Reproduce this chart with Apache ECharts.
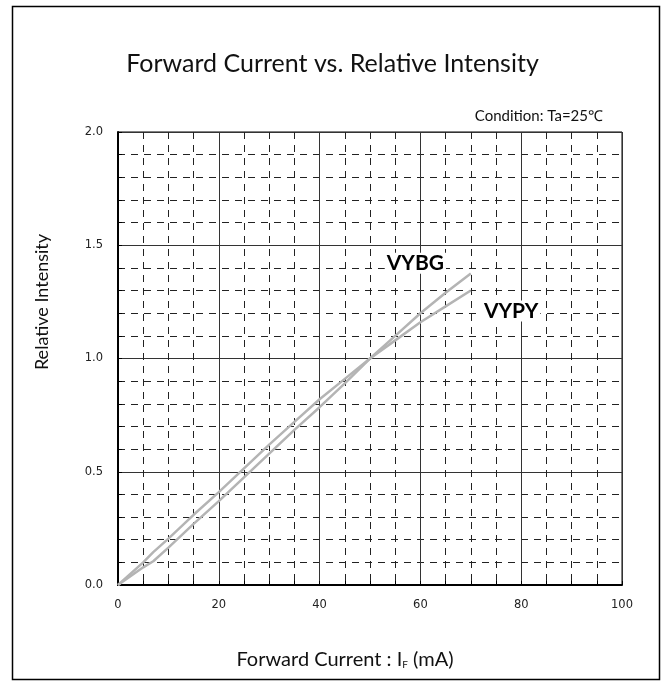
<!DOCTYPE html>
<html><head><meta charset="utf-8">
<script src="https://cdn.jsdelivr.net/npm/echarts@6/dist/echarts.min.js"></script>
<style>html,body{margin:0;padding:0;background:#fff}#c{width:665px;height:684px}</style>
</head><body><div id="c"></div>
<script>
var currentMA = [0, 5, 7, 10, 15, 20, 25, 30, 35, 40, 45, 50, 55, 60, 65, 70];
var vybg = [0, 0.078, 0.105, 0.165, 0.27, 0.37, 0.475, 0.58, 0.685, 0.785, 0.89, 1.0, 1.1, 1.2, 1.29, 1.375];
var vypy = [0, 0.1, 0.145, 0.205, 0.31, 0.41, 0.515, 0.62, 0.72, 0.82, 0.91, 1.0, 1.08, 1.16, 1.23, 1.30];
var xTicks = [0, 20, 40, 60, 80, 100];
var yTicks = [0, 0.5, 1.0, 1.5, 2.0];
var labelPos = { VYBG: [59, 1.42], VYPY: [78, 1.21] };

function pairs(xs, ys) { return xs.map(function (x, i) { return [x, ys[i]]; }); }

var chart = echarts.init(document.getElementById('c'), null, { renderer: 'canvas' });
var lineColor = '#b4b4b4';
var seriesLabel = function (txt) {
  return { show: true, position: 'inside', formatter: txt, fontFamily: 'Lato', fontWeight: 'bold', fontSize: 21, color: '#000', backgroundColor: '#fff', padding: [0, 2] };
};
var option = {
  backgroundColor: '#fff',
  animation: false,
  title: {
    text: 'Forward Current vs. Relative Intensity',
    left: 'center', top: 46,
    textStyle: { fontFamily: 'Lato', fontWeight: 'normal', fontSize: 25, color: '#111' }
  },
  graphic: [
    { type: 'rect', shape: { x: 12.5, y: 6.5, width: 647, height: 673 }, style: { fill: 'none', stroke: '#000', lineWidth: 1.5 }, z: -1 },
    { type: 'text', right: 62, top: 109, style: { text: 'Condition: Ta=25℃', fontFamily: 'Lato', fontSize: 15, fill: '#111' } },
    { type: 'text', x: 42, y: 302, rotation: Math.PI / 2,
      style: { text: 'Relative Intensity', fontFamily: 'Lato', fontSize: 18, fill: '#111', align: 'center', verticalAlign: 'middle' } },
    { type: 'text', x: 345, y: 660,
      style: { text: '{n|Forward Current : I}{s|F}{n| (mA)}', align: 'center', verticalAlign: 'middle',
        rich: { n: { fontFamily: 'Lato', fontSize: 20, fill: '#111' }, s: { fontFamily: 'Lato', fontSize: 10, fill: '#111', verticalAlign: 'bottom', padding: [8, 0, 0, 0] } } } }
  ],
  grid: { left: 118, right: 43, top: 132, bottom: 99, show: true, borderColor: '#000', borderWidth: 1 },
  xAxis: {
    type: 'value', min: 0, max: 100, interval: 20,
    axisLine: { lineStyle: { color: '#000', width: 2 } },
    axisTick: { show: true, inside: true, length: 4, lineStyle: { color: '#000' } },
    minorTick: { show: true, splitNumber: 4, length: 4, lineStyle: { color: '#000' } },
    axisLabel: { margin: 14, fontFamily: 'DejaVu Sans', fontSize: 11.5, color: '#222', formatter: function (v) { return xTicks.indexOf(v) >= 0 ? String(v) : ''; } },
    splitLine: { show: true, lineStyle: { color: '#333', width: 1 } },
    minorSplitLine: { show: true, lineStyle: { color: '#222', width: 1, type: [7, 6] } }
  },
  yAxis: {
    type: 'value', min: 0, max: 2, interval: 0.5,
    axisLine: { show: true, lineStyle: { color: '#000', width: 2 } },
    axisTick: { show: true, inside: true, length: 4, lineStyle: { color: '#000' } },
    minorTick: { show: true, splitNumber: 5, length: 4, lineStyle: { color: '#000' } },
    axisLabel: { margin: 15, fontFamily: 'DejaVu Sans', fontSize: 11.5, color: '#222', formatter: function (v) { return yTicks.indexOf(v) >= 0 ? v.toFixed(1) : ''; } },
    splitLine: { show: true, lineStyle: { color: '#333', width: 1 } },
    minorSplitLine: { show: true, lineStyle: { color: '#222', width: 1, type: [7, 6] } }
  },
  series: [
    {
      name: 'VYBG', type: 'line', data: pairs(currentMA, vybg), showSymbol: false, smooth: false,
      lineStyle: { color: lineColor, width: 2.5 }, z: 5,
      markPoint: { symbol: 'circle', symbolSize: 0, data: [{ coord: labelPos.VYBG }], label: seriesLabel('VYBG') }
    },
    {
      name: 'VYPY', type: 'line', data: pairs(currentMA, vypy), showSymbol: false, smooth: false,
      lineStyle: { color: lineColor, width: 2.5 }, z: 5,
      markPoint: { symbol: 'circle', symbolSize: 0, data: [{ coord: labelPos.VYPY }], label: seriesLabel('VYPY') }
    }
  ]
};
chart.setOption(option);
</script></body></html>
